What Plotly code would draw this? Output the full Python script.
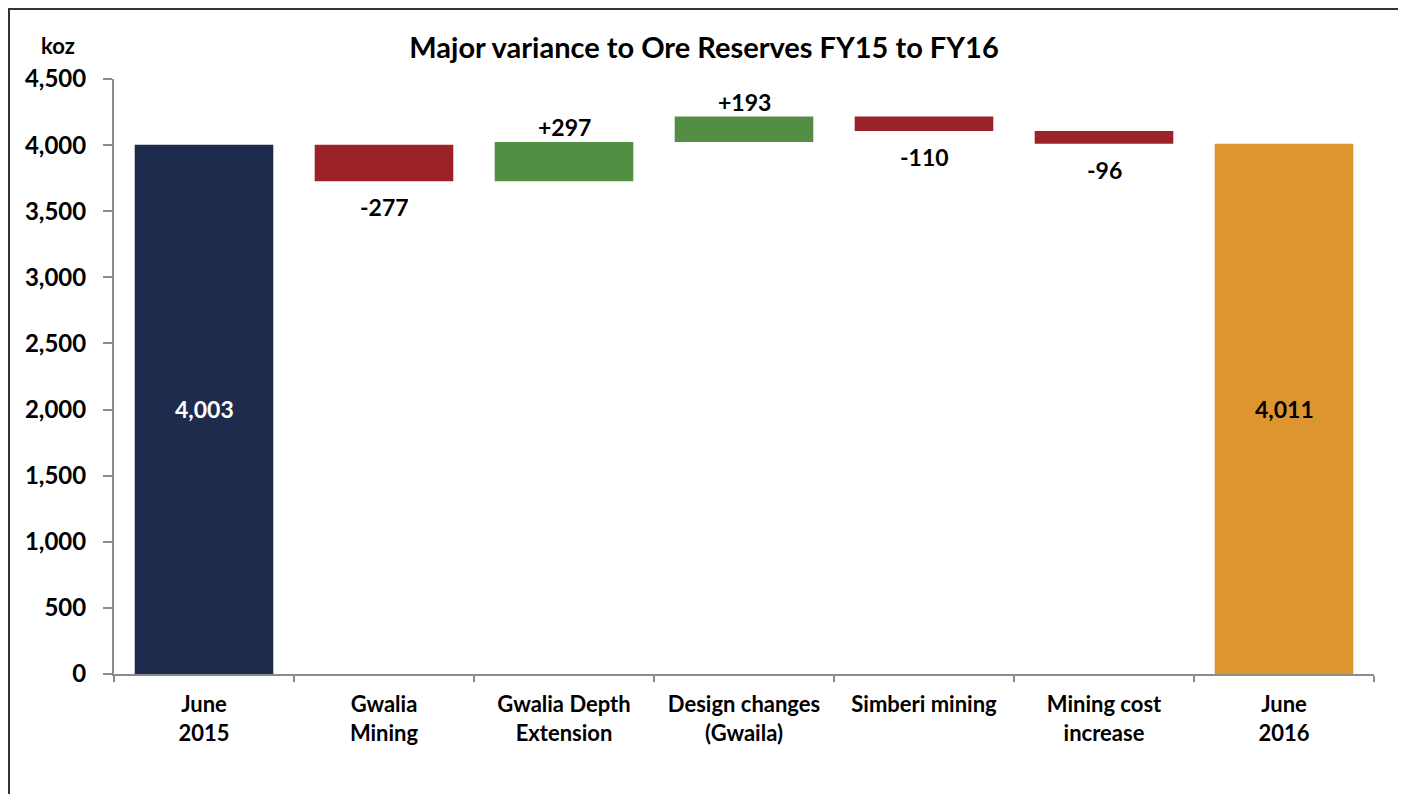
import plotly.graph_objects as go

categories = ["June<br>2015", "Gwalia<br>Mining", "Gwalia Depth<br>Extension",
              "Design changes<br>(Gwaila)", "Simberi mining", "Mining cost<br>increase",
              "June<br>2016"]
start_value = 4003
changes = [-277, 297, 193, -110, -96]
end_value = 4011
labels = ["4,003", "-277", "+297", "+193", "-110", "-96", "4,011"]

NAVY = "#1F2B4D"
RED = "#9B2229"
GREEN = "#528F45"
ORANGE = "#DD9530"

bases = [0]
heights = [start_value]
colors = [NAVY]
running = start_value
for c in changes:
    if c < 0:
        bases.append(running + c)
        heights.append(-c)
        colors.append(RED)
    else:
        bases.append(running)
        heights.append(c)
        colors.append(GREEN)
    running += c
bases.append(0)
heights.append(end_value)
colors.append(ORANGE)

FONT = "Lato"
W, H = 1398, 786
L, T, PW, PH = 106, 71, 1260, 595
R = W - L - PW
B = H - T - PH

fig = go.Figure()
fig.add_trace(go.Bar(x=categories, y=heights, base=bases,
                     marker=dict(color=colors, line=dict(width=0)),
                     hoverinfo="skip"))

annotations = []
for i, cat in enumerate(categories):
    if i == 0 or i == len(categories) - 1:
        annotations.append(dict(x=cat, y=bases[i] + heights[i] / 2, text=labels[i],
                                showarrow=False, yanchor="middle",
                                font=dict(family=FONT, size=23,
                                          color="white" if i == 0 else "black")))
    else:
        ch = changes[i - 1]
        if ch < 0:
            annotations.append(dict(x=cat, y=bases[i], text=labels[i], showarrow=False,
                                    yanchor="top", yshift=-10,
                                    font=dict(family=FONT, size=23, color="black")))
        else:
            annotations.append(dict(x=cat, y=bases[i] + heights[i], text=labels[i],
                                    showarrow=False, yanchor="bottom", yshift=-1,
                                    font=dict(family=FONT, size=23, color="black")))

annotations.append(dict(xref="paper", yref="paper", x=(50 - L) / PW, y=(T + PH - 38) / PH,
                        text="koz", showarrow=False, xanchor="center", yanchor="middle",
                        font=dict(family=FONT, size=22, color="black")))

fig.update_layout(
    width=W, height=H,
    margin=dict(l=L, r=R, t=T, b=B),
    paper_bgcolor="white", plot_bgcolor="white",
    bargap=0.23,
    showlegend=False,
    title=dict(text="<b>Major variance to Ore Reserves FY15 to FY16</b>",
               x=(696 - L) / PW, xanchor="center", xref="paper",
               y=1 - 40 / H, yanchor="middle",
               font=dict(family=FONT, size=29, color="black")),
    font=dict(family=FONT, color="black"),
    annotations=annotations,
    shapes=[dict(type="rect", xref="paper", yref="paper",
                 x0=(1 - L) / PW, x1=(1394 - L) / PW,
                 y0=-0.3, y1=(T + PH - 1) / PH,
                 line=dict(color="#333333", width=2), fillcolor="rgba(0,0,0,0)")],
)
fig.update_xaxes(showline=True, linecolor="#8C8C8C", linewidth=2,
                 ticks="outside", tickson="boundaries", tickcolor="#8C8C8C",
                 ticklen=6, tickwidth=2, showgrid=False, ticklabelstandoff=10,
                 tickfont=dict(family=FONT, size=22, color="black"))
fig.update_yaxes(range=[0, 4500], dtick=500, tickformat=",",
                 showline=True, linecolor="#8C8C8C", linewidth=2,
                 ticks="outside", tickcolor="#8C8C8C", ticklen=9, tickwidth=2,
                 showgrid=False, zeroline=False, ticklabelstandoff=12,
                 tickfont=dict(family=FONT, size=24, color="black"))

fig.for_each_xaxis(lambda a: a.update(tickprefix="<b>", ticksuffix="</b>"))
fig.for_each_yaxis(lambda a: a.update(tickprefix="<b>", ticksuffix="</b>"))
for a in fig.layout.annotations:
    a.text = "<b>" + a.text + "</b>"

fig.write_html("out.html")
